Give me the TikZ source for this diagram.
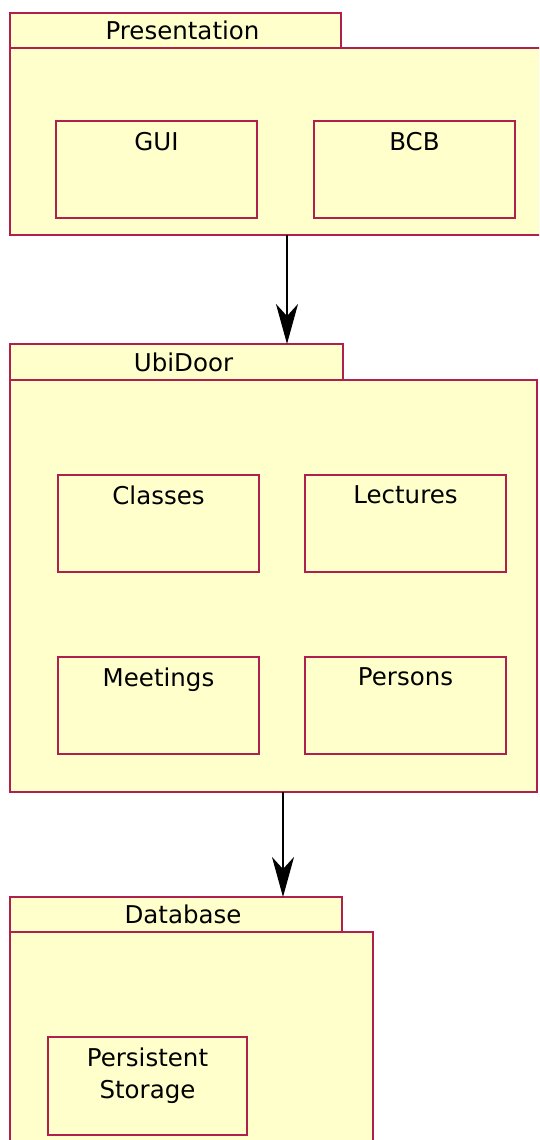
\documentclass[tikz,border=0pt]{standalone}
\usepackage{fontspec}
\setmainfont{DejaVu Sans}
\usetikzlibrary{arrows.meta}
\definecolor{pkgfill}{HTML}{FFFFCC}
\definecolor{pkgline}{HTML}{B0204E}
\begin{document}
\begin{tikzpicture}[x=1pt,y=-1pt,
  every node/.style={inner sep=0pt,outer sep=0pt,font=\fontsize{24.5}{32}\selectfont},
  pkgpart/.style={draw=pkgline,fill=pkgfill,line width=2.6pt,rectangle,anchor=north west},
  pkgtab/.style={pkgpart,minimum height=35pt},
  comp/.style={pkgpart,minimum width=201pt,minimum height=97pt},
  title/.style={label={[xshift=7pt]center:#1}},
  caption/.style={label={[anchor=north,yshift=-11pt,align=center]north:#1}},
  dep/.style={line width=2pt,-{Stealth[length=40pt,width=22pt,inset=12pt]}}]
\useasboundingbox (0,0) rectangle (539,1140);
\clip (0,0) rectangle (539,1140);

% Presentation package
\node[pkgpart,minimum width=545pt,minimum height=187pt] (presbody) at (10,48) {};
\node[pkgtab,minimum width=331pt,title=Presentation] (prestab) at (10,13) {};
\node[comp,caption=GUI] (gui) at (56,121) {};
\node[comp,caption=BCB] (bcb) at (314,121) {};

% UbiDoor package
\node[pkgpart,minimum width=527pt,minimum height=412pt] (ubibody) at (10,380) {};
\node[pkgtab,minimum width=333pt,minimum height=36pt,title=UbiDoor] (ubitab) at (10,344) {};
\node[comp,caption=Classes] (classes) at (58,475) {};
\node[comp,caption=Lectures] (lectures) at (305,475) {};
\node[comp,caption=Meetings] (meetings) at (58,657) {};
\node[comp,caption=Persons] (persons) at (305,657) {};

% Database package
\node[pkgpart,minimum width=363pt,minimum height=230pt] (dbbody) at (10,932) {};
\node[pkgtab,minimum width=332pt,title=Database] (dbtab) at (10,897) {};
\node[comp,minimum width=199pt,minimum height=98pt,caption={Persistent\\Storage}] (store) at (48,1037) {};

% dependencies
\coordinate (d1) at (287,0);
\coordinate (d2) at (283,0);
\draw[dep] (presbody.south -| d1) -- (ubitab.north -| d1);
\draw[dep] (ubibody.south -| d2) -- (dbtab.north -| d2);
\end{tikzpicture}
\end{document}
